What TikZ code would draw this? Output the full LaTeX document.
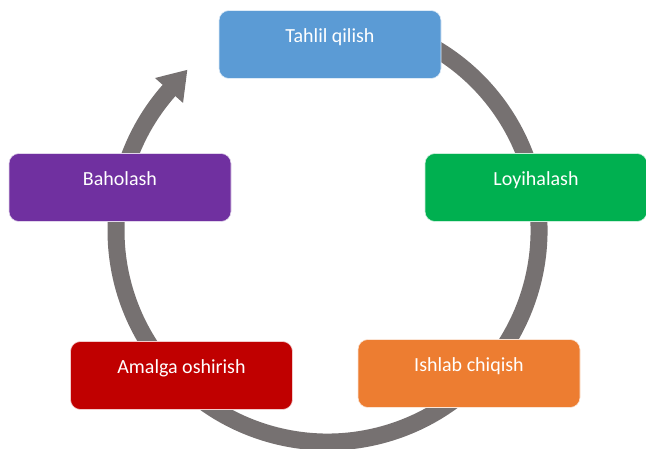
\documentclass[tikz,border=0pt]{standalone}
\usepackage{fontspec}
\setmainfont{Carlito}
\definecolor{ringgray}{HTML}{767171}
\definecolor{cblue}{HTML}{5B9BD5}
\definecolor{cgreen}{HTML}{00B050}
\definecolor{corange}{HTML}{ED7D31}
\definecolor{cred}{HTML}{C00000}
\definecolor{cpurple}{HTML}{7030A0}
\tikzset{
  stagebox/.style={fill=#1, draw=white!80!#1, line width=0.6pt, rounded corners=10pt,
    minimum width=222pt, minimum height=68pt, inner sep=0pt},
  stagetext/.style={anchor=base, text=white, font=\fontsize{20}{24}\selectfont, inner sep=0pt},
  ring/.style={draw=ringgray, line width=17pt, line cap=butt},
}
\begin{document}
\begin{tikzpicture}[x=1pt,y=1pt]
\useasboundingbox (0,0) rectangle (646,448);
\coordinate (C) at (327.5,217.5);
% ring arrow
\draw[ring] ([shift={(70:211.5)}]C) arc[start angle=70, end angle=-221.6, radius=211.5];
\fill[ringgray, shift={(C)}, rotate=138.4] (230.25,0.5) -- (192.75,0.5) -- (211.5,-27) -- cycle;
% boxes
\node[stagebox=cblue]   (b1) at (330,403.5) {};
\node[stagebox=cgreen]  (b2) at (536,260.5) {};
\node[stagebox=corange] (b3) at (469,74.5) {};
\node[stagebox=cred]    (b4) at (181.5,72.5) {};
\node[stagebox=cpurple] (b5) at (120,260.5) {};
\node[stagetext] (t1) at ([yshift=-32pt]b1.north) {Tahlil qilish};
\node[stagetext] (t2) at ([yshift=-32pt]b2.north) {Loyihalash};
\node[stagetext] (t3) at ([yshift=-32pt]b3.north) {Ishlab chiqish};
\node[stagetext] (t4) at ([yshift=-32pt]b4.north) {Amalga oshirish};
\node[stagetext] (t5) at ([yshift=-32pt]b5.north) {Baholash};
\end{tikzpicture}
\end{document}
